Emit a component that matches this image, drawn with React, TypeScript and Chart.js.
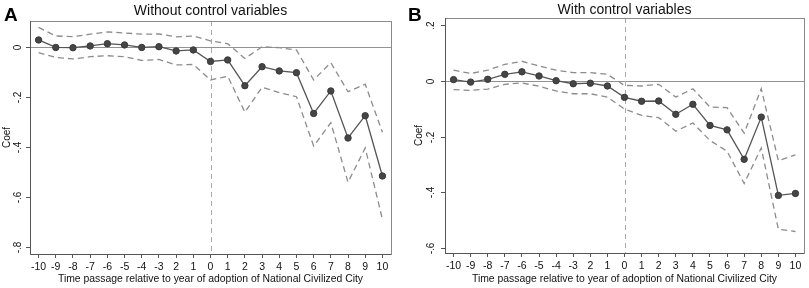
import React, { useEffect, useRef } from 'react';
import { Chart, registerables } from 'chart.js';

Chart.register(...registerables);

// ---------- data ----------
const xValues = [-10, -9, -8, -7, -6, -5, -4, -3, -2, -1, 0, 1, 2, 3, 4, 5, 6, 7, 8, 9, 10];
const xTickLabels = ['-10', '-9', '-8', '-7', '-6', '-5', '-4', '-3', '2', '1', '0', '1', '2', '3', '4', '5', '6', '7', '8', '9', '10'];

const leftCoef = [0.027, -0.003, -0.004, 0.003, 0.012, 0.007, -0.003, 0.0, -0.017, -0.013, -0.059, -0.053, -0.156, -0.08, -0.097, -0.104, -0.267, -0.177, -0.365, -0.276, -0.517];
const leftUpper = [0.077, 0.043, 0.04, 0.05, 0.059, 0.055, 0.05, 0.051, 0.039, 0.043, 0.023, 0.012, -0.047, 0.0, -0.004, -0.013, -0.133, -0.064, -0.18, -0.15, -0.342];
const leftLower = [-0.024, -0.043, -0.049, -0.04, -0.036, -0.04, -0.055, -0.051, -0.073, -0.071, -0.133, -0.118, -0.262, -0.162, -0.184, -0.2, -0.397, -0.304, -0.542, -0.405, -0.69];

const rightCoef = [0.005, -0.004, 0.006, 0.024, 0.033, 0.018, 0.001, -0.01, -0.008, -0.018, -0.059, -0.073, -0.072, -0.12, -0.084, -0.16, -0.176, -0.282, -0.13, -0.412, -0.405];
const rightUpper = [0.039, 0.027, 0.039, 0.06, 0.071, 0.054, 0.039, 0.03, 0.03, 0.024, -0.016, -0.018, -0.012, -0.058, -0.028, -0.094, -0.096, -0.188, -0.028, -0.287, -0.266];
const rightLower = [-0.031, -0.034, -0.029, -0.012, -0.007, -0.019, -0.036, -0.046, -0.046, -0.058, -0.101, -0.124, -0.132, -0.181, -0.151, -0.214, -0.253, -0.369, -0.241, -0.534, -0.542];

const leftYTicks = [0, -0.2, -0.4, -0.6, -0.8];
const leftYTickLabels = ['0', '-.2', '-.4', '-.6', '-.8'];
const rightYTicks = [0.2, 0, -0.2, -0.4, -0.6];
const rightYTickLabels = ['.2', '0', '-.2', '-.4', '-.6'];

const FONT = 'Arial, "Liberation Sans", Helvetica, sans-serif';

type PanelProps = {
  letter: string;
  title: string;
  coef: number[];
  upper: number[];
  lower: number[];
  yMin: number;
  yMax: number;
  yTicks: number[];
  yTickLabels: string[];
  width: number;
  height: number;
  area: { left: number; top: number; right: number; bottom: number };
  yTitlePad: number;
  yLabelOffset: number;
  titleY: number;
  letterX: number;
};

function Panel(p: PanelProps) {
  const ref = useRef<HTMLCanvasElement | null>(null);

  useEffect(() => {
    if (!ref.current) return;
    const toPts = (arr: number[]) => xValues.map((x, i) => ({ x, y: arr[i] }));

    const framePlugin = {
      id: 'frame' + p.letter,
      beforeDatasetsDraw(chart: any) {
        const { ctx, chartArea: a, scales } = chart;
        const xs = scales.x;
        const ys = scales.y;
        ctx.save();
        const y0 = Math.round(ys.getPixelForValue(0)) + 0.5;
        ctx.strokeStyle = 'rgb(226, 112, 110)';
        ctx.lineWidth = 1.2;
        ctx.beginPath();
        ctx.moveTo(a.left, y0);
        ctx.lineTo(a.right, y0);
        ctx.stroke();
        const x0 = Math.round(xs.getPixelForValue(0)) + 0.5;
        ctx.strokeStyle = 'rgb(236, 140, 140)';
        ctx.lineWidth = 1;
        ctx.setLineDash([5, 4]);
        ctx.beginPath();
        ctx.moveTo(x0, a.top);
        ctx.lineTo(x0, a.bottom);
        ctx.stroke();
        ctx.restore();
      },
      afterDraw(chart: any) {
        const { ctx, chartArea: a, scales } = chart;
        const ys = scales.y;
        ctx.save();
        // frame
        ctx.lineWidth = 1;
        ctx.strokeStyle = '#8a8a8a';
        ctx.strokeRect(Math.round(a.left) + 0.5, Math.round(a.top) + 0.5, Math.round(a.right - a.left), Math.round(a.bottom - a.top));
        ctx.strokeStyle = '#555';
        ctx.beginPath();
        ctx.moveTo(Math.round(a.left) + 0.5, a.top);
        ctx.lineTo(Math.round(a.left) + 0.5, Math.round(a.bottom) + 0.5);
        ctx.lineTo(a.right, Math.round(a.bottom) + 0.5);
        ctx.stroke();
        // y ticks + rotated labels
        ctx.fillStyle = '#111';
        ctx.font = `10px ${FONT}`;
        ctx.textAlign = 'center';
        ctx.textBaseline = 'middle';
        p.yTicks.forEach((v, i) => {
          const py = Math.round(ys.getPixelForValue(v)) + 0.5;
          ctx.beginPath();
          ctx.moveTo(a.left - 4, py);
          ctx.lineTo(a.left, py);
          ctx.stroke();
          ctx.save();
          ctx.translate(a.left - p.yLabelOffset, py);
          ctx.rotate(-Math.PI / 2);
          ctx.fillText(p.yTickLabels[i], 0, 0);
          ctx.restore();
        });
        // title
        ctx.font = `14px ${FONT}`;
        ctx.fillStyle = '#111';
        ctx.textAlign = 'center';
        ctx.fillText(p.title, (a.left + a.right) / 2, p.titleY);
        // panel letter
        ctx.font = `bold 19px ${FONT}`;
        ctx.textAlign = 'left';
        ctx.textBaseline = 'top';
        ctx.fillStyle = '#000';
        ctx.fillText(p.letter, p.letterX, 6);
        ctx.restore();
      },
    };

    const chart = new Chart(ref.current, {
      type: 'line',
      data: {
        datasets: [
          {
            data: toPts(p.upper),
            borderColor: '#8c8c8c',
            borderWidth: 1.3,
            borderDash: [6, 4],
            pointRadius: 0,
            tension: 0,
            fill: false,
          },
          {
            data: toPts(p.lower),
            borderColor: '#8c8c8c',
            borderWidth: 1.3,
            borderDash: [6, 4],
            pointRadius: 0,
            tension: 0,
            fill: false,
          },
          {
            data: toPts(p.coef),
            borderColor: '#555',
            borderWidth: 1.3,
            pointRadius: 3.2,
            pointBackgroundColor: '#454545',
            pointBorderColor: '#3a3a3a',
            pointBorderWidth: 1,
            tension: 0,
            fill: false,
          },
        ],
      },
      options: {
        responsive: false,
        animation: false,
        events: [],
        layout: {
          padding: {
            left: 0,
            top: p.area.top,
            right: p.width - p.area.right,
            bottom: 0,
          },
        },
        plugins: {
          legend: { display: false },
          tooltip: { enabled: false },
          title: { display: false },
        },
        scales: {
          x: {
            type: 'linear',
            min: -10.5,
            max: 10.5,
            afterBuildTicks: (s: any) => {
              s.ticks = xValues.map((v) => ({ value: v }));
            },
            afterFit: (s: any) => {
              s.height = p.height - p.area.bottom;
            },
            grid: {
              display: true,
              drawOnChartArea: false,
              drawTicks: true,
              tickLength: 4,
              color: '#555',
            },
            border: { display: false },
            ticks: {
              autoSkip: false,
              maxRotation: 0,
              minRotation: 0,
              padding: 3,
              color: '#111',
              font: { family: FONT, size: 10.5 },
              callback: (v: any) => {
                const i = xValues.indexOf(Number(v));
                return i >= 0 ? xTickLabels[i] : '';
              },
            },
            title: {
              display: true,
              text: 'Time passage relative to year of adoption of National Civilized City',
              color: '#111',
              font: { family: FONT, size: 10.4 },
              padding: { top: 0, bottom: 3 },
            },
          },
          y: {
            type: 'linear',
            min: p.yMin,
            max: p.yMax,
            afterBuildTicks: (s: any) => {
              s.ticks = p.yTicks.map((v) => ({ value: v }));
            },
            afterFit: (s: any) => {
              s.width = p.area.left;
            },
            grid: { display: false },
            border: { display: false },
            ticks: { display: false },
            title: {
              display: true,
              text: 'Coef',
              color: '#111',
              font: { family: FONT, size: 10 },
              padding: { top: p.yTitlePad, bottom: 0 },
            },
          },
        },
      },
      plugins: [framePlugin],
    } as any);

    return () => chart.destroy();
  }, []);

  return (
    <canvas
      ref={ref}
      width={p.width}
      height={p.height}
      style={{ width: p.width, height: p.height, display: 'block' }}
    />
  );
}

export default function App() {
  const H = 288;
  return (
    <div
      style={{
        position: 'absolute',
        left: 0,
        top: 0,
        width: 809,
        height: H,
        background: '#fff',
        display: 'flex',
      }}
    >
      <Panel
        letter="A"
        title="Without control variables"
        coef={leftCoef}
        upper={leftUpper}
        lower={leftLower}
        yMin={-0.829}
        yMax={0.1028}
        yTicks={leftYTicks}
        yTickLabels={leftYTickLabels}
        width={404}
        height={H}
        area={{ left: 30, top: 21, right: 391, bottom: 254 }}
        yTitlePad={1}
        yLabelOffset={11.5}
        titleY={11.5}
        letterX={4}
      />
      <Panel
        letter="B"
        title="With control variables"
        coef={rightCoef}
        upper={rightUpper}
        lower={rightLower}
        yMin={-0.6194}
        yMax={0.2268}
        yTicks={rightYTicks}
        yTickLabels={rightYTickLabels}
        width={405}
        height={H}
        area={{ left: 41, top: 18, right: 401, bottom: 253 }}
        yTitlePad={9}
        yLabelOffset={14}
        titleY={10.5}
        letterX={4}
      />
    </div>
  );
}
